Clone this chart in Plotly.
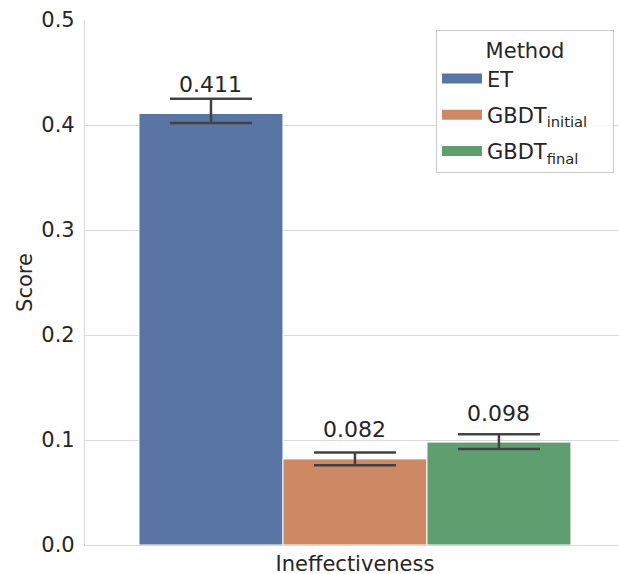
import plotly.graph_objects as go

category = ["Ineffectiveness"]
methods = ["ET", "GBDT<sub>initial</sub>", "GBDT<sub>final</sub>"]
scores = [0.411, 0.082, 0.098]
ci_low = [0.402, 0.076, 0.0915]
ci_high = [0.425, 0.088, 0.1055]
labels = ["0.411", "0.082", "0.098"]
colors = ["#5975a4", "#cc8963", "#5f9e6e"]
y_ticks = [0.0, 0.1, 0.2, 0.3, 0.4, 0.5]

TXT = "#262626"
GRID = "#d9d9d9"
FONT = "DejaVu Sans"
FS = 21

fig = go.Figure()
for i, m in enumerate(methods):
    fig.add_trace(go.Bar(
        x=category, y=[scores[i]], name=m, offsetgroup=str(i),
        marker=dict(color=colors[i], line=dict(color="white", width=1)),
        error_y=dict(type="data", symmetric=False,
                     array=[ci_high[i] - scores[i]],
                     arrayminus=[scores[i] - ci_low[i]],
                     color="#424242", thickness=2.5, width=41),
        showlegend=False,
    ))
    # legend swatch
    fig.add_trace(go.Scatter(
        x=[None], y=[None], mode="lines", name=m + "&nbsp;&nbsp;&nbsp;",
        legendgroup=str(i),
        line=dict(color=colors[i], width=13), showlegend=True,
    ))

annotations = []
for i, m in enumerate(methods):
    off = (i - 1) * 0.8 / 3
    annotations.append(dict(
        x=off, y=scores[i], xref="x", yref="y", text=labels[i],
        showarrow=False, yanchor="middle", yshift=29,
        font=dict(size=FS + 1, color=TXT, family=FONT),
    ))

fig.update_layout(
    width=619, height=574,
    margin=dict(l=85, r=0, t=20, b=29, autoexpand=False),
    paper_bgcolor="white", plot_bgcolor="white",
    font=dict(family=FONT, size=FS, color=TXT),
    barmode="group", bargap=0.2, bargroupgap=0,
    annotations=annotations,
    showlegend=True,
    legend=dict(
        title=dict(text="Method", side="top center", font=dict(size=FS, color=TXT)),
        x=0.9906, xanchor="right", y=0.981, yanchor="top",
        bordercolor="#cccccc", borderwidth=1, bgcolor="rgba(255,255,255,0.8)",
        font=dict(size=FS, color=TXT), traceorder="grouped", tracegroupgap=6,
        itemwidth=40,
    ),
)
fig.update_xaxes(
    type="category", range=[-0.5, 0.489], showgrid=False, automargin=False,
    showline=True, linecolor=GRID, linewidth=1.2,
    ticks="", ticklabelstandoff=0, tickfont=dict(size=FS, color=TXT),
)
fig.update_yaxes(
    range=[0, 0.5], tickvals=y_ticks, ticktext=[f"{v:.1f}" for v in y_ticks],
    automargin=False,
    showgrid=True, gridcolor=GRID, gridwidth=1.2,
    showline=True, linecolor=GRID, linewidth=1.2, zeroline=False,
    ticks="", ticklabelstandoff=5, tickfont=dict(size=FS, color=TXT),
    title=dict(text="Score", font=dict(size=FS, color=TXT), standoff=2),
)
fig.write_html("out.html", config={"displayModeBar": False},
               post_script="document.body.style.margin='0';document.body.style.overflow='hidden';")
